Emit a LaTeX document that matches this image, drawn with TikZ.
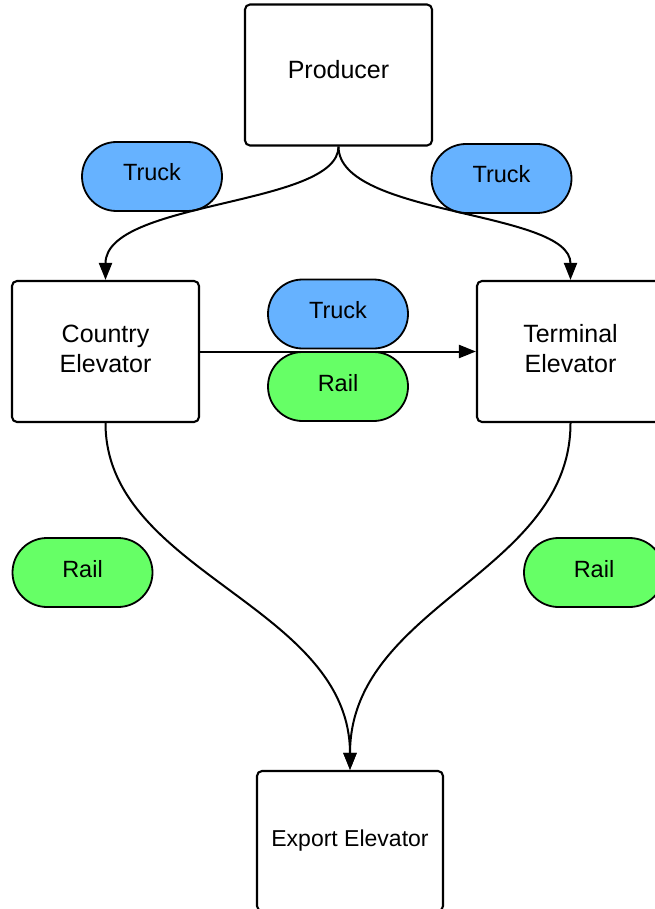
\documentclass[tikz,border=0pt]{standalone}
\usepackage{fontspec}
\setmainfont{Liberation Sans}
\usetikzlibrary{arrows.meta,shapes.misc}
\definecolor{truckblue}{RGB}{102,178,255}
\definecolor{railgreen}{RGB}{102,255,102}
\tikzset{
  stage/.style={draw=black, line width=2.1pt, rounded corners=5pt, fill=white,
    minimum width=187pt, minimum height=141pt, align=center,
    font=\fontsize{25}{30}\selectfont, inner sep=0pt},
  twoline/.style={text height=48pt, text depth=6pt},
  mode/.style={draw=black, line width=1.8pt, rounded rectangle,
    minimum width=140pt, minimum height=69pt, inner sep=0pt,
    text height=17pt, text depth=8pt,
    font=\fontsize{23.5}{28}\selectfont},
  truck/.style={mode, fill=truckblue},
  rail/.style={mode, fill=railgreen},
  flow/.style={line width=2pt, -{Triangle[length=17pt,width=13pt]}}
}
\begin{document}
\begin{tikzpicture}[x=1pt,y=1pt]
  \useasboundingbox (0,0) rectangle (655,-909);
  \clip (0,0) rectangle (655,-909);

  % elevators and producer
  \node[stage, text height=18pt, text depth=10pt] (prod) at (338.5,-75) {Producer};
  \node[stage, twoline] (ce) at (105.5,-351.5) {Country\\Elevator};
  \node[stage, twoline] (te) at (570.5,-351.5) {Terminal\\Elevator};
  \node[stage, minimum width=186pt, minimum height=140pt,
        text height=17pt, text depth=6pt,
        font=\fontsize{23}{28}\selectfont] (ee) at (350,-841) {Export Elevator};

  % transport modes
  \node[truck] (t1) at (152,-176.5) {Truck};
  \node[truck] (t2) at (501.5,-178.5) {Truck};
  \node[truck] (t3) at (338,-314) {Truck};
  \node[rail]  (r3) at (338,-386.5) {Rail};
  \node[rail]  (r1) at (82.5,-572.5) {Rail};
  \node[rail]  (r2) at (594,-572.5) {Rail};

  % flows between stages
  \draw[flow] (prod.south) .. controls +(0,-60) and +(0,80) .. (ce.north);
  \draw[flow] (prod.south) .. controls +(0,-70) and +(0,70) .. (te.north);
  \draw[flow] (ce.east) -- (te.west);
  \draw[flow] (ce.south) .. controls +(0,-150) and +(0,165) .. (ee.north);
  \draw[flow] (te.south) .. controls +(0,-150) and +(0,165) .. (ee.north);
\end{tikzpicture}
\end{document}
